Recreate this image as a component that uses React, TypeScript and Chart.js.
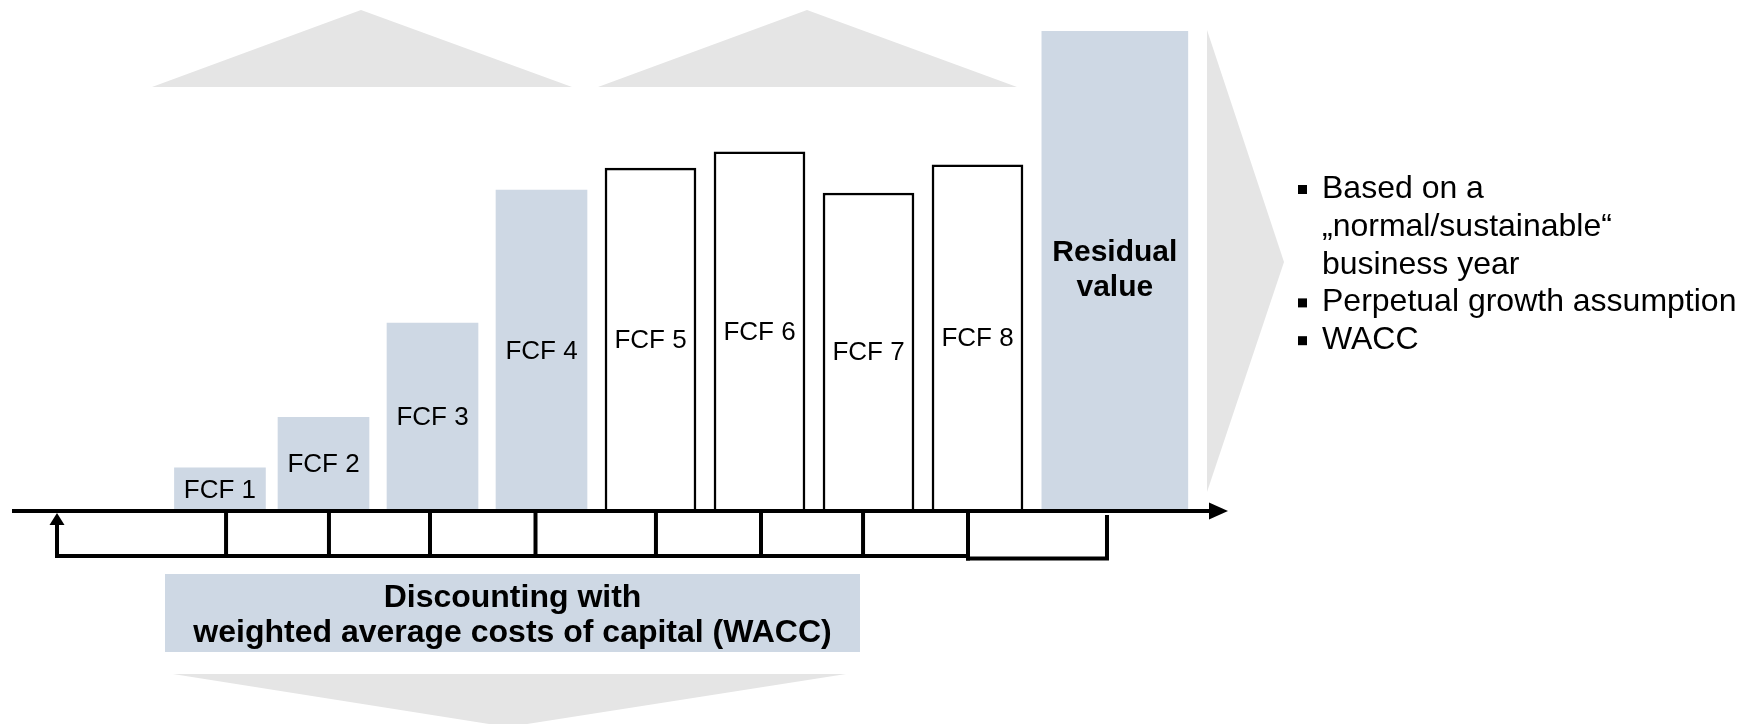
import React, { useEffect, useRef } from 'react';
import { Chart, registerables } from 'chart.js';

Chart.register(...registerables);

// ---------- data ----------
const periods = [1.05, 2, 3, 4, 5, 6, 7, 8, 9.26];
const barLabels = ['FCF 1', 'FCF 2', 'FCF 3', 'FCF 4', 'FCF 5', 'FCF 6', 'FCF 7', 'FCF 8', 'Residual value'];
const cashFlows = [8.6, 19.2, 38.9, 66.7, 71.3, 74.7, 66.1, 72.0, 100];
const detailedIdx = [0, 1, 2, 3];
const roughIdx = [4, 5, 6, 7];
const residualIdx = [8];
// discounting bracket tick positions (in period units)
const bracketTicks = [1.106, 2.05, 2.977, 3.945, 5.05, 6.014, 6.95, 7.913, 9.188];
const discountLines = ['Discounting with', 'weighted average costs of capital (WACC)'];
const residualNotes = [
  ['Based on a', '\u201Enormal/sustainable\u201C', 'business year'],
  ['Perpetual growth assumption'],
  ['WACC'],
];

// ---------- styles ----------
const BLUE = '#CED8E4';
const GREY = '#E5E5E5';
const FONT = "'Liberation Sans', Arial, sans-serif";
const W = 1753;
const H = 724;

const pts = (idx: number[]) => idx.map((i) => ({ x: periods[i], y: cashFlows[i] }));

const decorPlugin = {
  id: 'decor',
  beforeDatasetsDraw(chart: any) {
    const ctx = chart.ctx as CanvasRenderingContext2D;
    ctx.save();
    ctx.fillStyle = GREY;
    const poly = (p: number[][]) => {
      ctx.beginPath();
      ctx.moveTo(p[0][0], p[0][1]);
      for (let i = 1; i < p.length; i++) ctx.lineTo(p[i][0], p[i][1]);
      ctx.closePath();
      ctx.fill();
    };
    // top triangles
    poly([[152, 87], [361, 10], [572, 87]]);
    poly([[598, 87], [807, 10], [1017, 87]]);
    // right chevron
    poly([[1207, 30], [1284, 262], [1207, 492]]);
    // bottom triangle
    poly([[173, 674], [846, 674], [508, 727]]);

    // discount box
    ctx.fillStyle = BLUE;
    ctx.fillRect(165, 574, 695, 78);
    ctx.fillStyle = '#000';
    ctx.font = `bold 32px ${FONT}`;
    ctx.textAlign = 'center';
    ctx.textBaseline = 'alphabetic';
    ctx.fillText(discountLines[0], 512.5, 607);
    ctx.fillText(discountLines[1], 512.5, 642);
    ctx.restore();
  },
  afterDatasetsDraw(chart: any) {
    const ctx = chart.ctx as CanvasRenderingContext2D;
    const xs = chart.scales.x;
    const ys = chart.scales.y;
    ctx.save();

    // bar labels
    ctx.fillStyle = '#000';
    ctx.textAlign = 'center';
    ctx.textBaseline = 'alphabetic';
    chart.data.datasets.forEach((ds: any, di: number) => {
      const meta = chart.getDatasetMeta(di);
      meta.data.forEach((el: any, j: number) => {
        const idx = ds.srcIdx[j];
        const label = barLabels[idx];
        const cy = (el.y + el.base) / 2;
        if (idx === residualIdx[0]) {
          ctx.font = `bold 30px ${FONT}`;
          const lines = label.split(' ');
          lines.forEach((ln: string, k: number) => {
            ctx.fillText(ln, el.x, cy + (k - (lines.length - 1) / 2) * 35 + 8);
          });
        } else {
          ctx.font = `26px ${FONT}`;
          ctx.fillText(label, el.x, cy + 9.3);
        }
      });
    });

    // time axis
    const axisY = ys.getPixelForValue(0) + 2;
    ctx.strokeStyle = '#000';
    ctx.fillStyle = '#000';
    ctx.lineWidth = 4;
    ctx.beginPath();
    ctx.moveTo(12, axisY);
    ctx.lineTo(1212, axisY);
    ctx.stroke();
    ctx.beginPath();
    ctx.moveTo(1228, axisY);
    ctx.lineTo(1209, axisY - 8.5);
    ctx.lineTo(1209, axisY + 8.5);
    ctx.closePath();
    ctx.fill();

    // discounting bracket
    const bottomY = 556;
    const startX = 57;
    const lastTick = xs.getPixelForValue(bracketTicks[7]);
    const endTick = xs.getPixelForValue(bracketTicks[8]);
    ctx.lineWidth = 4;
    ctx.lineCap = 'butt';
    ctx.beginPath();
    ctx.moveTo(startX, 523);
    ctx.lineTo(startX, bottomY);
    ctx.lineTo(lastTick, bottomY);
    ctx.stroke();
    ctx.beginPath();
    ctx.moveTo(startX, axisY + 2);
    ctx.lineTo(startX - 7.5, 525);
    ctx.lineTo(startX + 7.5, 525);
    ctx.closePath();
    ctx.fill();
    for (let i = 0; i < 8; i++) {
      const x = xs.getPixelForValue(bracketTicks[i]);
      ctx.beginPath();
      ctx.moveTo(x, axisY);
      ctx.lineTo(x, i === 7 ? bottomY + 4.5 : bottomY);
      ctx.stroke();
    }
    ctx.beginPath();
    ctx.moveTo(lastTick - 2, bottomY + 2.5);
    ctx.lineTo(endTick, bottomY + 2.5);
    ctx.lineTo(endTick, axisY + 4);
    ctx.stroke();

    // bullet notes
    ctx.font = `32px ${FONT}`;
    ctx.textAlign = 'left';
    let base = 198;
    residualNotes.forEach((item) => {
      ctx.fillRect(1298, base - 13, 9, 9);
      item.forEach((ln) => {
        ctx.fillText(ln, 1322, base);
        base += 37.8;
      });
    });

    ctx.restore();
  },
};

export default function App() {
  const ref = useRef<HTMLCanvasElement>(null);
  useEffect(() => {
    if (!ref.current) return;
    const chart = new Chart(ref.current, {
      type: 'bar',
      data: {
        datasets: [
          {
            label: 'Detailed planning',
            data: pts(detailedIdx),
            srcIdx: detailedIdx,
            backgroundColor: BLUE,
            borderWidth: 0,
            barThickness: 91,
            grouped: false,
          } as any,
          {
            label: 'Rough planning',
            data: pts(roughIdx),
            srcIdx: roughIdx,
            backgroundColor: '#FFFFFF',
            borderColor: '#000000',
            borderWidth: 2.5,
            barThickness: 91,
            grouped: false,
          } as any,
          {
            label: 'Residual value',
            data: pts(residualIdx),
            srcIdx: residualIdx,
            backgroundColor: BLUE,
            borderWidth: 0,
            barThickness: 146,
            grouped: false,
          } as any,
        ],
      },
      options: {
        animation: false,
        responsive: false,
        maintainAspectRatio: false,
        layout: { padding: { left: 105.5, right: W - 1195.5, top: 31, bottom: H - 509 } },
        scales: {
          x: { type: 'linear', min: 0, max: 10, display: false, offset: false },
          y: { min: 0, max: 100, display: false },
        },
        plugins: { legend: { display: false }, tooltip: { enabled: false } },
      },
      plugins: [decorPlugin],
    });
    return () => chart.destroy();
  }, []);
  return (
    <div style={{ position: 'fixed', left: 0, top: 0, width: W, height: H, background: '#fff' }}>
      <canvas ref={ref} width={W} height={H} style={{ display: 'block', width: W, height: H }} />
    </div>
  );
}
